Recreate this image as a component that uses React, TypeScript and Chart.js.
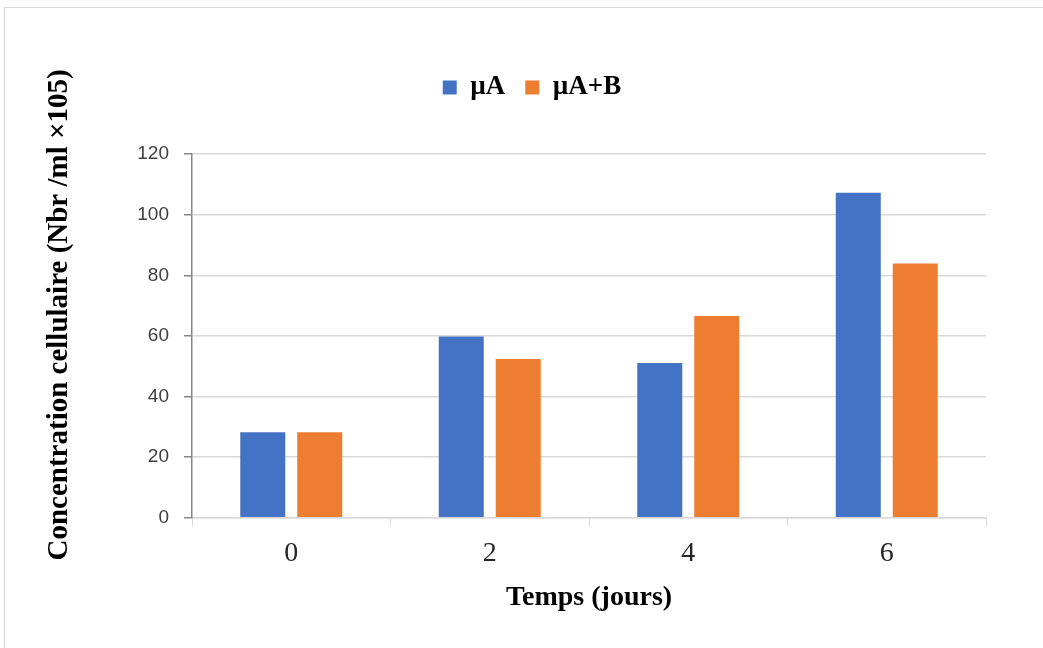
import React, { useEffect, useRef } from "react";
import { Chart, registerables } from "chart.js";

Chart.register(...registerables);

const categories = ["0", "2", "4", "6"];
const seriesA = [28.2, 59.8, 51.1, 107.2];
const seriesAB = [28.2, 52.4, 66.6, 83.9];
const seriesNames = ["µA", "µA+B"];
const yTicks = [0, 20, 40, 60, 80, 100, 120];
const yTitle = "Concentration cellulaire (Nbr /ml ×105)";
const xTitle = "Temps (jours)";

const SERIF = "'Liberation Serif', 'Times New Roman', serif";

export default function App() {
  const ref = useRef<HTMLCanvasElement | null>(null);

  useEffect(() => {
    if (!ref.current) return;
    const legendSpace = {
      id: "legendSpace",
      beforeInit(chart: any) {
        const orig = chart.legend.fit;
        chart.legend.fit = function () {
          orig.bind(chart.legend)();
          this.height += 43;
        };
      },
    };
    const yTitlePlugin = {
      id: "yTitlePlugin",
      afterDraw(chart: any) {
        const { ctx, chartArea } = chart;
        ctx.save();
        ctx.translate(chartArea.left - 132, (chartArea.top + chartArea.bottom) / 2 - 21);
        ctx.rotate(-Math.PI / 2);
        ctx.font = `bold 29px ${SERIF}`;
        ctx.fillStyle = "#000";
        ctx.textAlign = "center";
        ctx.textBaseline = "middle";
        ctx.fillText(yTitle, 0, 0);
        ctx.restore();
      },
    };
    const chart = new Chart(ref.current, {
      type: "bar",
      data: {
        labels: categories,
        datasets: [
          {
            label: seriesNames[0],
            data: seriesA,
            backgroundColor: "#4472C4",
            categoryPercentage: 0.574,
            barPercentage: 0.79,
          },
          {
            label: seriesNames[1],
            data: seriesAB,
            backgroundColor: "#ED7D31",
            categoryPercentage: 0.574,
            barPercentage: 0.79,
          },
        ],
      },
      options: {
        animation: false,
        responsive: false,
        maintainAspectRatio: false,
        layout: { padding: { left: 73, right: 53, top: 46, bottom: 33 } },
        plugins: {
          legend: {
            position: "top",
            labels: {
              boxWidth: 14,
              boxHeight: 14,
              padding: 20,
              color: "#000",
              font: { family: SERIF, size: 27, weight: "bold" },
            },
          },
          tooltip: { enabled: false },
        },
        scales: {
          x: {
            grid: {
              display: true,
              drawOnChartArea: false,
              offset: true,
              tickLength: 8,
              tickColor: "#d9d9d9",
              color: "#d9d9d9",
            },
            border: { color: "#d9d9d9", width: 1.5 },
            ticks: {
              color: "#262626",
              padding: 11,
              font: { family: SERIF, size: 28 },
            },
            title: {
              display: true,
              text: xTitle,
              color: "#000",
              padding: { top: 0, bottom: 0 },
              font: { family: SERIF, size: 28, weight: "bold" },
            },
          },
          y: {
            min: 0,
            max: 120,
            afterBuildTicks(axis: any) {
              axis.ticks = yTicks.map((v) => ({ value: v }));
            },
            afterFit(axis: any) {
              axis.width = 114;
            },
            grid: {
              color: "#d9d9d9",
              lineWidth: 1.5,
              tickColor: "#868686",
              tickLength: 8,
            },
            border: { color: "#868686", width: 1.5 },
            ticks: {
              color: "#404040",
              padding: 15,
              font: { family: "'Liberation Sans', Arial, sans-serif", size: 19 },
            },
          },
        },
      },
      plugins: [legendSpace, yTitlePlugin],
    });
    return () => chart.destroy();
  }, []);

  return (
    <div
      style={{
        position: "fixed",
        left: 4,
        top: 7,
        width: 1040,
        height: 650,
        border: "1px solid #d9d9d9",
        background: "#fff",
      }}
    >
      <canvas ref={ref} width={1034} height={640} style={{ display: "block" }} />
    </div>
  );
}
